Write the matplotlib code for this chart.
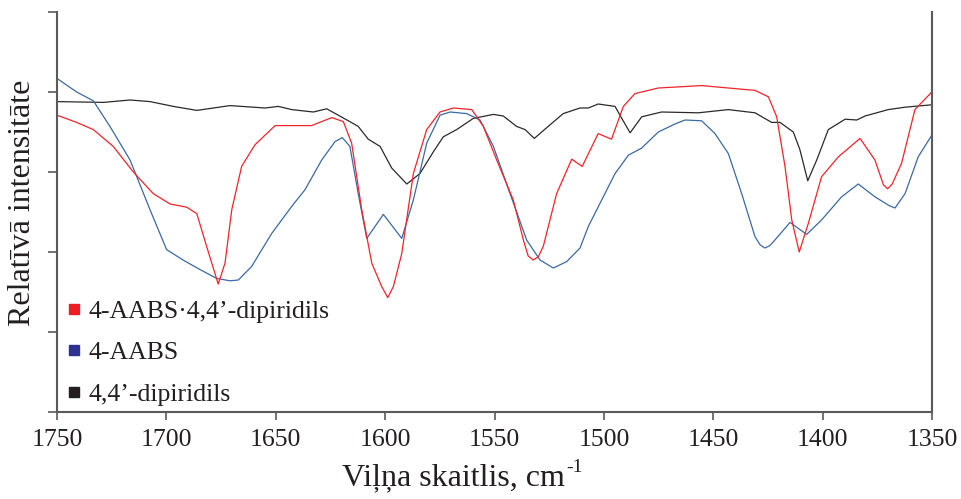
import numpy as np
import matplotlib
matplotlib.use("Agg")
import matplotlib.pyplot as plt
from matplotlib.lines import Line2D

plt.rcParams['font.family'] = ['Liberation Serif', 'DejaVu Serif']

# 4-AABS·4,4'-dipiridils (red)
red_x = [1750, 1741, 1733.4, 1724.3, 1715.1, 1706.0, 1698.3, 1690.7, 1686.1, 1681.6,
         1676.3, 1673.2, 1670.1, 1665.6, 1659.5, 1650.3, 1633.6, 1624.4, 1619.1, 1615.3,
         1610.7, 1606.1, 1601.6, 1598.8, 1596.2, 1592.4, 1587.1, 1581.0, 1574.9, 1568.8,
         1560.4, 1555.1, 1549.0, 1541.4, 1536.8, 1534.6, 1532.3, 1530.0, 1527.7, 1521.6,
         1514.7, 1509.9, 1502.6, 1496.5, 1491.1, 1485.8, 1475.1, 1455.3, 1430.9, 1424.8,
         1421.0, 1417.2, 1414.1, 1410.7, 1406.5, 1400.5, 1392.8, 1382.9, 1376.1, 1372.2,
         1370.3, 1368.2, 1363.9, 1357.8, 1350.1]
red_y = [3.71, 3.62, 3.53, 3.32, 3.00, 2.73, 2.60, 2.56, 2.48, 2.07,
         1.60, 1.86, 2.53, 3.07, 3.34, 3.58, 3.58, 3.68, 3.63, 3.36,
         2.53, 1.86, 1.57, 1.43, 1.57, 1.98, 2.98, 3.53, 3.75, 3.80,
         3.78, 3.57, 3.15, 2.65, 2.15, 1.95, 1.90, 1.94, 2.07, 2.73,
         3.16, 3.07, 3.48, 3.41, 3.82, 3.98, 4.05, 4.08, 4.02, 3.94,
         3.69, 3.07, 2.40, 2.00, 2.36, 2.94, 3.19, 3.42, 3.15, 2.84,
         2.79, 2.85, 3.11, 3.78, 4.00]

# 4-AABS (blue)
blue_x = [1750, 1741.0, 1733.4, 1725.8, 1716.6, 1707.5, 1699.9, 1692.4, 1684.6, 1677.0,
          1670.9, 1667.1, 1661.0, 1651.9, 1642.7, 1636.6, 1629.0, 1622.9, 1619.6, 1616.1,
          1612.3, 1608.4, 1600.8, 1592.4, 1587.1, 1581.0, 1574.9, 1570.3, 1562.7, 1556.6,
          1550.5, 1542.9, 1535.3, 1529.2, 1523.1, 1517.0, 1510.9, 1507.1, 1501.0, 1494.9,
          1488.8, 1482.7, 1475.1, 1467.5, 1462.9, 1455.3, 1449.2, 1443.1, 1437.0, 1430.9,
          1428.6, 1426.4, 1424.1, 1421.8, 1414.9, 1407.3, 1400.5, 1391.3, 1383.7, 1376.1,
          1369.6, 1366.9, 1362.3, 1356.3, 1350.1]
blue_y = [4.17, 4.00, 3.89, 3.57, 3.15, 2.53, 2.03, 1.90, 1.78, 1.67,
          1.64, 1.65, 1.82, 2.23, 2.57, 2.78, 3.15, 3.38, 3.43, 3.32,
          2.73, 2.17, 2.47, 2.17, 2.65, 3.36, 3.71, 3.75, 3.73, 3.65,
          3.32, 2.73, 2.15, 1.90, 1.80, 1.88, 2.05, 2.32, 2.65, 2.98,
          3.21, 3.30, 3.50, 3.60, 3.65, 3.64, 3.48, 3.23, 2.73, 2.19,
          2.09, 2.05, 2.08, 2.15, 2.37, 2.22, 2.40, 2.69, 2.85, 2.69,
          2.58, 2.55, 2.73, 3.19, 3.46]

# 4,4'-dipiridils (black)
black_x = [1750, 1728.8, 1716.6, 1707.5, 1696.8, 1686.1, 1670.9, 1654.9, 1648.8, 1642.7,
           1632.8, 1626.7, 1621.4, 1616.8, 1612.3, 1607.7, 1602.3, 1597.0, 1590.1, 1584.1,
           1578.0, 1573.4, 1567.3, 1559.7, 1550.5, 1546.0, 1539.9, 1536.0, 1531.8, 1524.6,
           1518.6, 1510.9, 1507.1, 1502.6, 1494.9, 1491.8, 1488.0, 1482.7, 1473.6, 1456.8,
           1443.1, 1430.9, 1423.3, 1419.5, 1413.4, 1410.4, 1406.8, 1402.7, 1397.4, 1389.7,
           1384.4, 1380.6, 1370.0, 1362.3, 1350.1]
black_y = [3.88, 3.87, 3.90, 3.88, 3.82, 3.77, 3.83, 3.80, 3.82, 3.78,
           3.75, 3.79, 3.71, 3.64, 3.57, 3.41, 3.32, 3.05, 2.85, 2.98,
           3.25, 3.44, 3.53, 3.67, 3.72, 3.70, 3.57, 3.53, 3.42, 3.59,
           3.73, 3.80, 3.80, 3.85, 3.82, 3.67, 3.49, 3.69, 3.75, 3.74,
           3.78, 3.74, 3.62, 3.62, 3.50, 3.28, 2.89, 3.15, 3.53, 3.66,
           3.65, 3.70, 3.78, 3.81, 3.84]

labels = ["4-AABS·4,4’-dipiridils", "4-AABS", "4,4’-dipiridils"]
line_colors = ["#f2232a", "#3a69a3", "#2a2a2a"]
marker_colors = ["#ee1c25", "#2e3192", "#231f20"]
x_ticks = [1750, 1700, 1650, 1600, 1550, 1500, 1450, 1400, 1350]
text_color = "#231f20"
axis_color = "#5a5a5a"

fig = plt.figure(figsize=(9.62, 4.99), dpi=100)
ax = fig.add_axes([57 / 962, 87 / 499, 875 / 962, 400 / 499])

ax.plot(black_x, black_y, color=line_colors[2], lw=0.9)
ax.plot(blue_x, blue_y, color=line_colors[1], lw=0.9)
ax.plot(red_x, red_y, color=line_colors[0], lw=0.9)

ax.set_xlim(1750, 1350)
ax.set_ylim(0, 5)
ax.set_xticks(x_ticks)
ax.set_yticks(range(6))
ax.set_yticklabels([])
ax.tick_params(axis='x', direction='out', length=6, width=1.2, color=axis_color,
               labelsize=18.5, labelcolor=text_color, pad=6)
ax.tick_params(axis='y', direction='out', length=6.5, width=1.2, color=axis_color)

ax.spines['top'].set_visible(False)
for s in ['left', 'right', 'bottom']:
    ax.spines[s].set_color(axis_color)
    ax.spines[s].set_linewidth(1.5)

# x label with a small "-1" superscript set as plain text
xl = fig.text(342 / 962, 14 / 499, "Viļņa skaitlis, cm", ha='left', va='baseline',
              fontsize=23, color=text_color)
fig.canvas.draw()
bb = xl.get_window_extent()
fig.text(bb.x1 / 962 + 1 / 962, 27 / 499, "-1", ha='left', va='baseline',
         fontsize=14, color=text_color)

fig.text(23 / 962, 296 / 499, "Relatīvā intensitāte", ha='center', va='center',
         rotation=90, fontsize=23, color=text_color)

handles = [Line2D([], [], marker='s', linestyle='none', markersize=6.5,
                  markerfacecolor=c, markeredgecolor=c) for c in marker_colors]
ax.legend(handles, labels, loc='upper left', bbox_to_anchor=(0.0103, 0.28),
          frameon=False, fontsize=18.5, handlelength=0.6, handletextpad=0.27,
          labelspacing=0.72, borderpad=0, borderaxespad=0, labelcolor=text_color)

fig.savefig("out.png", dpi=100)
